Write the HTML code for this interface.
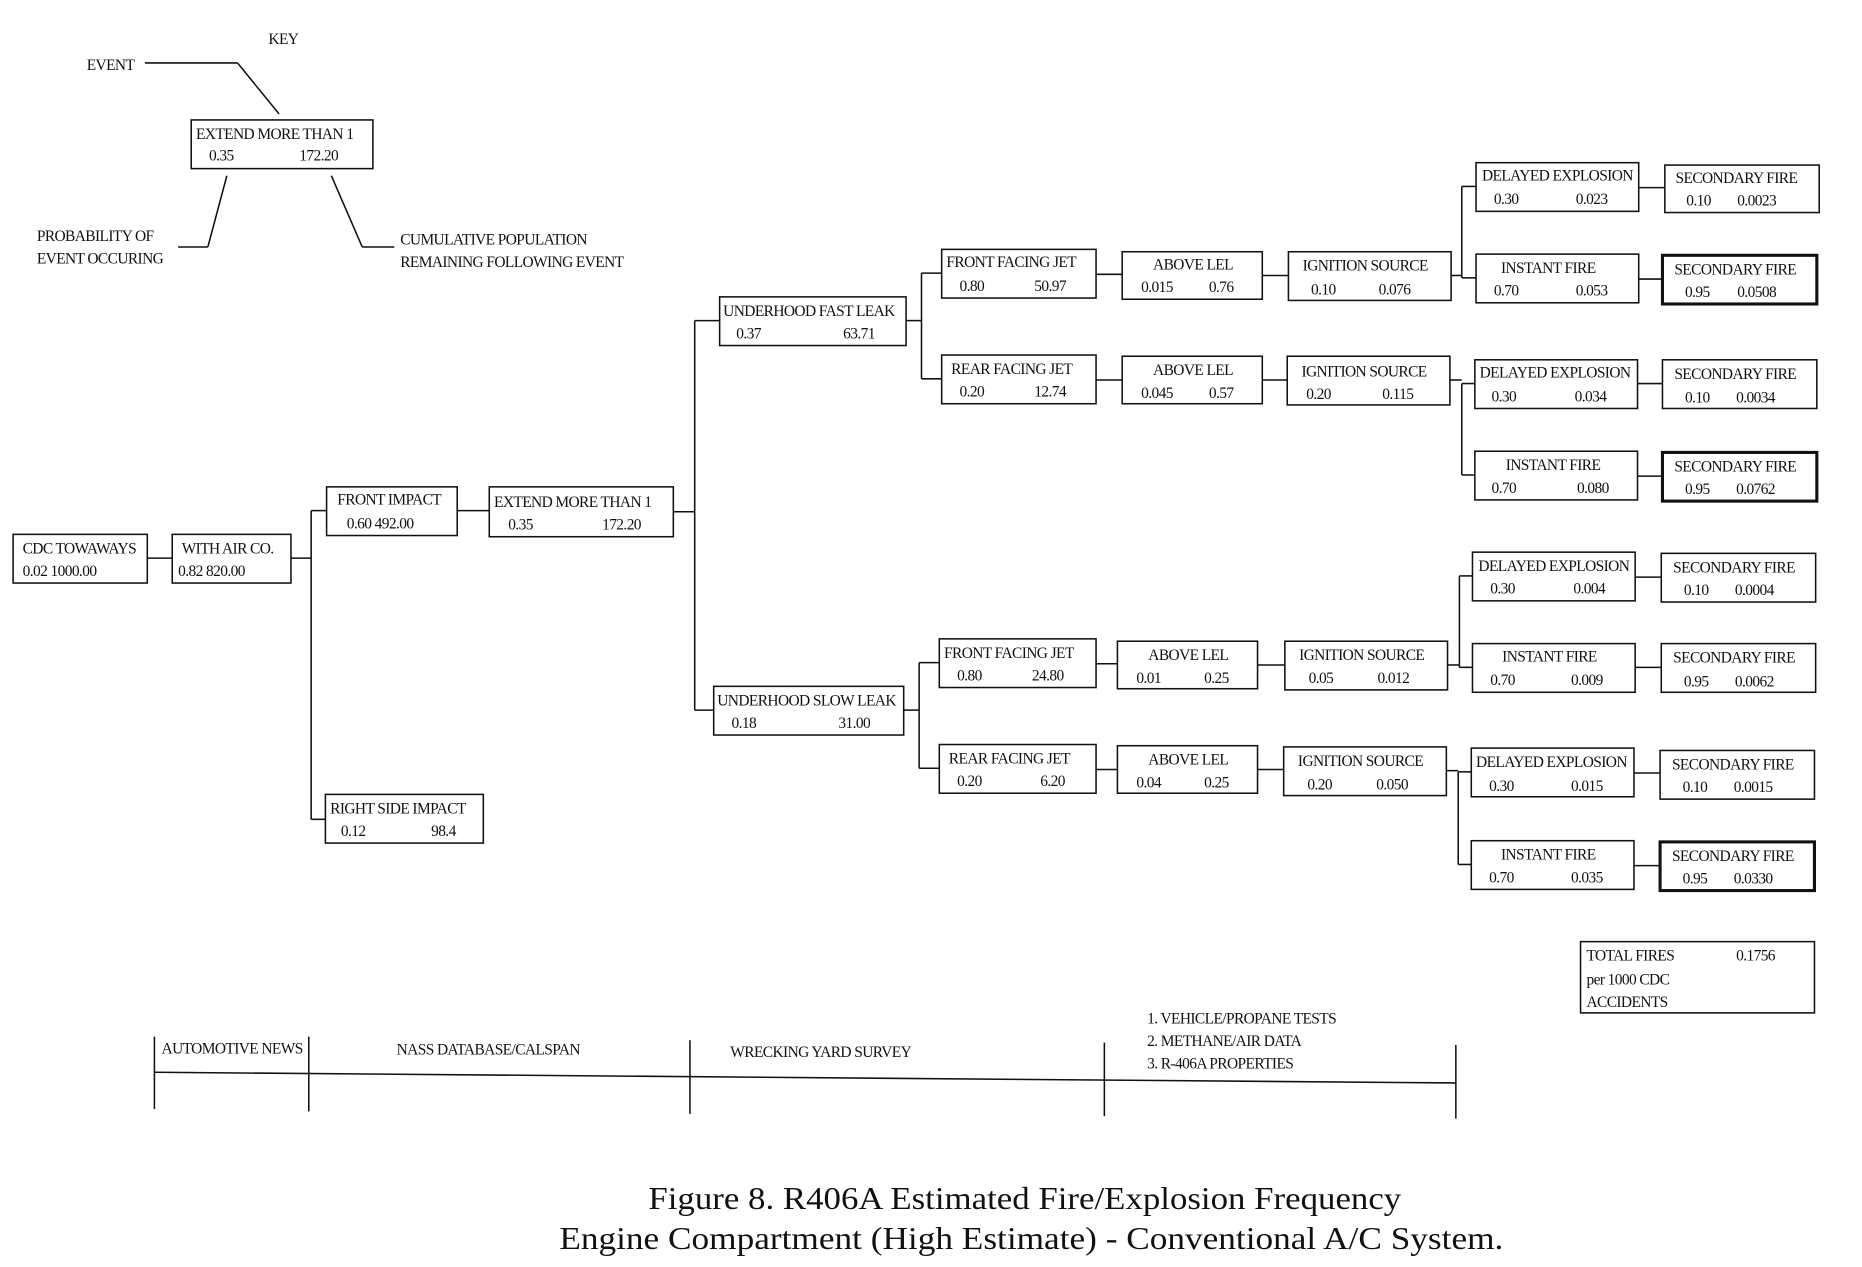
<!DOCTYPE html>
<html><head><meta charset="utf-8"><style>
html,body{margin:0;padding:0;background:#fff;}
svg{display:block}
text{font-family:"Liberation Serif",serif;font-size:13px;letter-spacing:-0.5px;fill:#111;}
</style></head><body>
<svg width="1862" height="1267" viewBox="0 0 1568 1067" xmlns="http://www.w3.org/2000/svg">
<g fill="none" stroke="#111" stroke-width="1.3">
<line x1="122" y1="53" x2="200" y2="53"/><line x1="200" y1="53" x2="235" y2="96"/>
<line x1="191" y1="148" x2="175" y2="208"/><line x1="175" y1="208" x2="150" y2="208"/>
<line x1="279" y1="148" x2="305" y2="208"/><line x1="305" y1="208" x2="332" y2="208"/>
<rect x="161" y="101" width="153" height="41"/>
<rect x="11" y="450" width="113" height="41"/>
<rect x="145" y="450" width="100" height="41"/>
<rect x="275" y="410" width="110" height="41"/>
<rect x="274" y="669" width="133" height="41"/>
<rect x="412" y="410" width="155" height="42"/>
<rect x="606" y="250" width="157" height="41"/>
<rect x="601" y="578" width="160" height="41"/>
<rect x="793" y="210" width="130" height="41"/><rect x="793" y="299" width="130" height="41"/>
<rect x="945" y="212" width="118" height="40"/><rect x="945" y="300" width="118" height="40"/>
<rect x="1085" y="212" width="137" height="41"/><rect x="1084" y="300" width="137" height="41"/>
<rect x="1243" y="137" width="137" height="41"/><rect x="1243" y="214" width="137" height="41"/>
<rect x="1242" y="303" width="137" height="41"/><rect x="1242" y="380" width="137" height="41"/>
<rect x="1402" y="139" width="130" height="40"/><rect x="1400" y="215" width="130" height="41" stroke-width="2.6"/>
<rect x="1400" y="303" width="130" height="41"/><rect x="1400" y="381" width="130" height="41" stroke-width="2.6"/>
<rect x="791" y="538" width="132" height="41"/><rect x="791" y="627" width="132" height="41"/>
<rect x="941" y="540" width="118" height="40"/><rect x="941" y="628" width="118" height="40"/>
<rect x="1082" y="540" width="137" height="41"/><rect x="1081" y="629" width="137" height="41"/>
<rect x="1240" y="465" width="137" height="41"/><rect x="1240" y="542" width="137" height="41"/>
<rect x="1239" y="630" width="137" height="41"/><rect x="1239" y="708" width="137" height="41"/>
<rect x="1399" y="466" width="130" height="41"/><rect x="1399" y="542" width="130" height="41"/>
<rect x="1398" y="632" width="130" height="41"/><rect x="1398" y="709" width="130" height="41" stroke-width="2.6"/>
<rect x="1331" y="793" width="197" height="60"/>
<line x1="124" y1="470" x2="145" y2="470"/>
<polyline points="245,470 262,470"/><line x1="262" y1="430" x2="262" y2="690"/>
<line x1="262" y1="430" x2="275" y2="430"/><line x1="262" y1="690" x2="274" y2="690"/>
<line x1="385" y1="430" x2="412" y2="430"/>
<line x1="567" y1="431" x2="585" y2="431"/><line x1="585" y1="270" x2="585" y2="598"/>
<line x1="585" y1="270" x2="606" y2="270"/><line x1="585" y1="598" x2="601" y2="598"/>
<line x1="763" y1="270" x2="776" y2="270"/><line x1="776" y1="230" x2="776" y2="319"/>
<line x1="776" y1="230" x2="793" y2="230"/><line x1="776" y1="319" x2="793" y2="319"/>
<line x1="761" y1="598" x2="774" y2="598"/><line x1="774" y1="558" x2="774" y2="647"/>
<line x1="774" y1="558" x2="791" y2="558"/><line x1="774" y1="647" x2="791" y2="647"/>
<line x1="923" y1="231" x2="945" y2="231"/><line x1="923" y1="320" x2="945" y2="320"/>
<line x1="923" y1="559" x2="941" y2="559"/><line x1="923" y1="648" x2="941" y2="648"/>
<line x1="1063" y1="232" x2="1085" y2="232"/><line x1="1063" y1="320" x2="1084" y2="320"/>
<line x1="1059" y1="560" x2="1082" y2="560"/><line x1="1059" y1="648" x2="1081" y2="648"/>
<line x1="1222" y1="232" x2="1231" y2="232"/><line x1="1231" y1="157" x2="1231" y2="234"/>
<line x1="1231" y1="157" x2="1243" y2="157"/><line x1="1231" y1="234" x2="1243" y2="234"/>
<line x1="1221" y1="320" x2="1231" y2="320"/><line x1="1231" y1="323" x2="1231" y2="400"/>
<line x1="1231" y1="323" x2="1242" y2="323"/><line x1="1231" y1="400" x2="1242" y2="400"/>
<line x1="1219" y1="560" x2="1229" y2="560"/><line x1="1229" y1="485" x2="1229" y2="562"/>
<line x1="1229" y1="485" x2="1240" y2="485"/><line x1="1229" y1="562" x2="1240" y2="562"/>
<line x1="1218" y1="649" x2="1228" y2="649"/><line x1="1228" y1="650" x2="1228" y2="728"/>
<line x1="1228" y1="650" x2="1239" y2="650"/><line x1="1228" y1="728" x2="1239" y2="728"/>
<line x1="1380" y1="158" x2="1402" y2="158"/><line x1="1380" y1="235" x2="1400" y2="235"/>
<line x1="1379" y1="323" x2="1400" y2="323"/><line x1="1379" y1="401" x2="1400" y2="401"/>
<line x1="1377" y1="486" x2="1399" y2="486"/><line x1="1377" y1="562" x2="1399" y2="562"/>
<line x1="1376" y1="651" x2="1398" y2="651"/><line x1="1376" y1="729" x2="1398" y2="729"/>
<line x1="130" y1="903" x2="1226" y2="912"/>
<line x1="130" y1="873" x2="130" y2="934"/><line x1="260" y1="873" x2="260" y2="936"/>
<line x1="581" y1="876" x2="581" y2="938"/><line x1="930" y1="878" x2="930" y2="940"/>
<line x1="1226" y1="880" x2="1226" y2="942"/>
</g>
<g>
<text x="226" y="37">KEY</text>
<text x="73" y="59">EVENT</text>
<text x="31" y="203">PROBABILITY OF</text><text x="31" y="222">EVENT OCCURING</text>
<text x="337" y="206">CUMULATIVE POPULATION</text><text x="337" y="225">REMAINING FOLLOWING EVENT</text>
<text x="165" y="117">EXTEND MORE THAN 1</text><text x="176" y="135">0.35</text><text x="252" y="135">172.20</text>
<text x="19" y="466">CDC TOWAWAYS</text><text x="19" y="485">0.02 1000.00</text>
<text x="153" y="466">WITH AIR CO.</text><text x="150" y="485">0.82 820.00</text>
<text x="284" y="425">FRONT IMPACT</text><text x="292" y="445">0.60 492.00</text>
<text x="278" y="685">RIGHT SIDE IMPACT</text><text x="287" y="704">0.12</text><text x="363" y="704">98.4</text>
<text x="416" y="427">EXTEND MORE THAN 1</text><text x="428" y="446">0.35</text><text x="507" y="446">172.20</text>
<text x="609" y="266">UNDERHOOD FAST LEAK</text><text x="620" y="285">0.37</text><text x="710" y="285">63.71</text>
<text x="604" y="594">UNDERHOOD SLOW LEAK</text><text x="616" y="613">0.18</text><text x="706" y="613">31.00</text>
<text x="797" y="225">FRONT FACING JET</text><text x="808" y="245">0.80</text><text x="871" y="245">50.97</text>
<text x="801" y="315">REAR FACING JET</text><text x="808" y="334">0.20</text><text x="871" y="334">12.74</text>
<text x="971" y="227">ABOVE LEL</text><text x="961" y="246">0.015</text><text x="1018" y="246">0.76</text>
<text x="971" y="316">ABOVE LEL</text><text x="961" y="335">0.045</text><text x="1018" y="335">0.57</text>
<text x="1097" y="228">IGNITION SOURCE</text><text x="1104" y="248">0.10</text><text x="1161" y="248">0.076</text>
<text x="1096" y="317">IGNITION SOURCE</text><text x="1100" y="336">0.20</text><text x="1164" y="336">0.115</text>
<text x="1248" y="152">DELAYED EXPLOSION</text><text x="1258" y="172">0.30</text><text x="1327" y="172">0.023</text>
<text x="1264" y="230">INSTANT FIRE</text><text x="1258" y="249">0.70</text><text x="1327" y="249">0.053</text>
<text x="1246" y="318">DELAYED EXPLOSION</text><text x="1256" y="338">0.30</text><text x="1326" y="338">0.034</text>
<text x="1268" y="396">INSTANT FIRE</text><text x="1256" y="415">0.70</text><text x="1328" y="415">0.080</text>
<text x="1411" y="154">SECONDARY FIRE</text><text x="1420" y="173">0.10</text><text x="1463" y="173">0.0023</text>
<text x="1410" y="231">SECONDARY FIRE</text><text x="1419" y="250">0.95</text><text x="1463" y="250">0.0508</text>
<text x="1410" y="319">SECONDARY FIRE</text><text x="1419" y="339">0.10</text><text x="1462" y="339">0.0034</text>
<text x="1410" y="397">SECONDARY FIRE</text><text x="1419" y="416">0.95</text><text x="1462" y="416">0.0762</text>
<text x="795" y="554">FRONT FACING JET</text><text x="806" y="573">0.80</text><text x="869" y="573">24.80</text>
<text x="799" y="643">REAR FACING JET</text><text x="806" y="662">0.20</text><text x="876" y="662">6.20</text>
<text x="967" y="556">ABOVE LEL</text><text x="957" y="575">0.01</text><text x="1014" y="575">0.25</text>
<text x="967" y="644">ABOVE LEL</text><text x="957" y="663">0.04</text><text x="1014" y="663">0.25</text>
<text x="1094" y="556">IGNITION SOURCE</text><text x="1102" y="575">0.05</text><text x="1160" y="575">0.012</text>
<text x="1093" y="645">IGNITION SOURCE</text><text x="1101" y="665">0.20</text><text x="1159" y="665">0.050</text>
<text x="1245" y="481">DELAYED EXPLOSION</text><text x="1255" y="500">0.30</text><text x="1325" y="500">0.004</text>
<text x="1265" y="557">INSTANT FIRE</text><text x="1255" y="577">0.70</text><text x="1323" y="577">0.009</text>
<text x="1243" y="646">DELAYED EXPLOSION</text><text x="1254" y="666">0.30</text><text x="1323" y="666">0.015</text>
<text x="1264" y="724">INSTANT FIRE</text><text x="1254" y="743">0.70</text><text x="1323" y="743">0.035</text>
<text x="1409" y="482">SECONDARY FIRE</text><text x="1418" y="501">0.10</text><text x="1461" y="501">0.0004</text>
<text x="1409" y="558">SECONDARY FIRE</text><text x="1418" y="578">0.95</text><text x="1461" y="578">0.0062</text>
<text x="1408" y="648">SECONDARY FIRE</text><text x="1417" y="667">0.10</text><text x="1460" y="667">0.0015</text>
<text x="1408" y="725">SECONDARY FIRE</text><text x="1417" y="744">0.95</text><text x="1460" y="744">0.0330</text>
<text x="1336" y="809">TOTAL FIRES</text><text x="1462" y="809">0.1756</text>
<text x="1336" y="829">per 1000 CDC</text><text x="1336" y="848">ACCIDENTS</text>
<text x="136" y="887">AUTOMOTIVE NEWS</text>
<text x="334" y="888">NASS DATABASE/CALSPAN</text>
<text x="615" y="890">WRECKING YARD SURVEY</text>
<text x="966" y="862">1. VEHICLE/PROPANE TESTS</text>
<text x="966" y="881">2. METHANE/AIR DATA</text>
<text x="966" y="900">3. R-406A PROPERTIES</text>
<text x="546" y="1018" textLength="634" lengthAdjust="spacingAndGlyphs" style="font-size:27px;letter-spacing:0">Figure 8. R406A Estimated Fire/Explosion Frequency</text>
<text x="471" y="1052" textLength="795" lengthAdjust="spacingAndGlyphs" style="font-size:27px;letter-spacing:0">Engine Compartment (High Estimate) - Conventional A/C System.</text>
</g>
</svg>
</body></html>
